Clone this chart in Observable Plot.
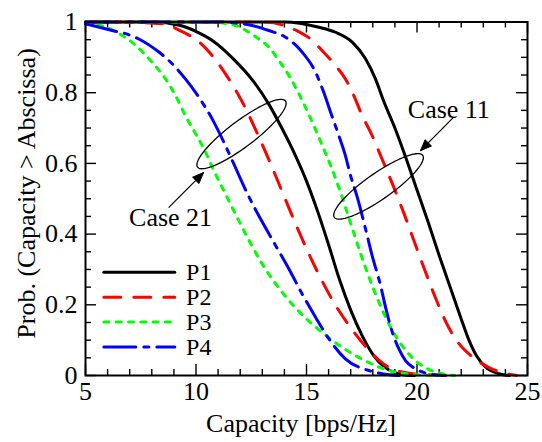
<!DOCTYPE html>
<html><head><meta charset="utf-8">
<script src="https://cdn.jsdelivr.net/npm/d3@7"></script>
<script src="https://cdn.jsdelivr.net/npm/@observablehq/plot@0.6"></script>
<style>html,body{margin:0;padding:0;background:#fff}</style>
</head><body><div id="chart"></div>
<script>
// ---- data: [capacity (bps/Hz), Prob(Capacity > Abscissa)] ----
const case21_P1 = [[5,1],[8,1],[9.3,0.99],[10.2,0.967],[10.8,0.945],[11.7,0.895],[12.6,0.832],[13.3,0.767],[13.9,0.698],[14.5,0.622],[15.0,0.55],[15.5,0.465],[16.0,0.37],[16.5,0.27],[17.0,0.185],[17.5,0.115],[18.0,0.06],[18.5,0.025],[19.0,0.008],[19.5,0.001],[19.9,0]];
const case21_P2 = [[5,1],[6.5,1],[8.47,0.995],[9.3,0.975],[10.2,0.94],[10.73,0.905],[11.45,0.842],[12.1,0.773],[12.7,0.695],[13.3,0.61],[13.9,0.52],[14.5,0.43],[15.1,0.345],[15.7,0.268],[16.3,0.2],[17.0,0.135],[17.7,0.08],[18.3,0.042],[18.8,0.02],[19.5,0.008],[20.5,0.002],[21.5,0]];
const case21_P3 = [[5,0.997],[6.2,0.978],[6.5,0.968],[7.19,0.938],[7.94,0.891],[8.62,0.839],[9.07,0.792],[9.52,0.735],[9.98,0.684],[10.43,0.632],[10.73,0.59],[11.2,0.53],[11.6,0.48],[12.0,0.43],[12.5,0.37],[13.0,0.315],[13.6,0.26],[14.3,0.205],[15.0,0.16],[15.8,0.117],[16.6,0.08],[17.4,0.05],[18.2,0.026],[19.0,0.01],[20.0,0.002],[21.0,0]];
const case21_P4 = [[5,0.995],[6.21,0.976],[6.81,0.967],[7.41,0.952],[8.32,0.915],[8.92,0.882],[9.52,0.839],[10.13,0.787],[10.73,0.726],[11.26,0.66],[11.7,0.6],[12.39,0.506],[13.0,0.434],[13.6,0.368],[14.2,0.302],[14.8,0.231],[15.41,0.165],[16.01,0.104],[16.76,0.047],[17.82,0.014],[18.42,0.005],[19.2,0]];
const case11_P1 = [[5,1],[14,1],[15.56,0.985],[16.31,0.971],[17.07,0.943],[17.67,0.896],[18.12,0.839],[18.5,0.775],[19.0,0.7],[19.5,0.615],[20.0,0.525],[20.5,0.435],[21.0,0.34],[21.5,0.25],[22.0,0.16],[22.35,0.1],[22.7,0.055],[23.1,0.024],[23.7,0.005],[24.2,0]];
const case11_P2 = [[5,1],[13,1],[14,0.99],[14.6,0.974],[15.26,0.948],[15.71,0.919],[16.31,0.877],[16.76,0.839],[17.14,0.792],[17.52,0.735],[17.9,0.688],[18.4,0.615],[18.9,0.54],[19.4,0.46],[19.9,0.375],[20.4,0.29],[20.9,0.21],[21.4,0.14],[21.9,0.09],[22.4,0.058],[22.9,0.035],[23.4,0.018],[24.0,0.006],[24.5,0]];
const case11_P3 = [[5,1],[10.5,1],[11.79,0.99],[12.39,0.971],[12.84,0.952],[13.29,0.929],[13.75,0.891],[14.2,0.849],[14.58,0.806],[14.95,0.759],[15.33,0.707],[15.71,0.651],[16.09,0.594],[16.5,0.525],[17.0,0.43],[17.5,0.335],[18.0,0.25],[18.5,0.175],[19.0,0.115],[19.5,0.07],[20.0,0.038],[20.5,0.018],[21.0,0.007],[21.7,0]];
const case11_P4 = [[5,1],[11,1],[12.54,0.99],[13.29,0.976],[14.05,0.957],[14.8,0.915],[15.41,0.858],[15.78,0.801],[16.09,0.745],[16.46,0.679],[16.76,0.622],[16.99,0.566],[17.3,0.504],[17.67,0.415],[17.97,0.339],[18.35,0.255],[18.57,0.195],[18.88,0.123],[19.18,0.075],[19.48,0.042],[19.93,0.019],[20.69,0.003],[21.2,0]];

const seriesNames = ["P1","P2","P3","P4"];
const caseNames = ["Case 11","Case 21"];
const xTicks = [5,10,15,20,25];
const yTicks = [0,0.2,0.4,0.6,0.8,1];
const xLabel = "Capacity [bps/Hz]";
const yLabel = "Prob. (Capacity > Abscissa)";

// ---- table built from the arrays ----
const raw = {"Case 11": [case11_P1, case11_P2, case11_P3, case11_P4], "Case 21": [case21_P1, case21_P2, case21_P3, case21_P4]};
const rows = [];
for (const c of caseNames) raw[c].forEach((arr, i) => arr.forEach(([x, y]) => rows.push({x, y, series: seriesNames[i], case: c})));

// ---- layout / styles ----
const W = 542, H = 442, mL = 85, mR = 15, mT = 21.5, mB = 67;
const plotW = W - mL - mR, plotH = H - mT - mB;
const kx = plotW / 20, ky = plotH / 1;
const FONT = "'Liberation Serif', 'Times New Roman', serif";
const FS = 26, LFS = 24;
const styles = {
  P1: {stroke: "#000000", dash: null},
  P2: {stroke: "#ff0000", dash: "17,13"},
  P3: {stroke: "#00ff00", dash: "5,7.3"},
  P4: {stroke: "#0000ff", dash: "32,8,5,8"}
};

// annotations (data units; sizes in px)
const ellipses = [{cx: 12.06, cy: 0.683, a: 55, b: 13, deg: 37}, {cx: 18.26, cy: 0.535, a: 54, b: 13, deg: 35}];
const arrows = [{x1: 8.76, y1: 0.475, x2: 10.34, y2: 0.574}, {x1: 21.65, y1: 0.73, x2: 20.16, y2: 0.636}];
const labels = [{x: 8.85, y: 0.447, text: "Case 21"}, {x: 21.44, y: 0.753, text: "Case 11"}];

function ellipsePts(e, id) {
  const th = e.deg * Math.PI / 180, pts = [];
  for (let i = 0; i <= 90; i++) {
    const t = i / 90 * 2 * Math.PI;
    const dx = e.a * Math.cos(th) * Math.cos(t) - e.b * Math.sin(th) * Math.sin(t);
    const dy = e.a * Math.sin(th) * Math.cos(t) + e.b * Math.cos(th) * Math.sin(t);
    pts.push({x: e.cx + dx / kx, y: e.cy + dy / ky, id});
  }
  return pts;
}
function headPts(a, id) {
  let ux = (a.x2 - a.x1) * kx, uy = (a.y2 - a.y1) * ky;
  const n = Math.hypot(ux, uy); ux /= n; uy /= n;
  const L = 11, w = 4.5;
  const bx = a.x2 * kx - L * ux, by = a.y2 * ky - L * uy;
  return [
    {x: a.x2, y: a.y2, id},
    {x: (bx - w * uy) / kx, y: (by + w * ux) / ky, id},
    {x: (bx + w * uy) / kx, y: (by - w * ux) / ky, id},
    {x: a.x2, y: a.y2, id}
  ];
}
const ellData = ellipses.flatMap((e, i) => ellipsePts(e, i));
const headData = arrows.flatMap((a, i) => headPts(a, i));

// legend
const legX1 = 5.83, legX2 = 9.04, legTextX = 9.55, legY0 = 0.292, legStep = 0.0705;
const legRows = seriesNames.flatMap((s, i) => [{x: legX1, y: legY0 - i * legStep, series: s}, {x: legX2, y: legY0 - i * legStep, series: s}]);
const legText = seriesNames.map((s, i) => ({x: legTextX, y: legY0 - i * legStep, text: s}));

const xMinor = d3.range(5, 25.001, 1).filter(v => v % 5 !== 0);
const yMinor = d3.range(0, 1.0001, 0.05).map(v => +v.toFixed(2)).filter(v => Math.round(v * 100) % 20 !== 0);

const tickOpts = {stroke: "#000", strokeWidth: 1.4};
const MAJ = 11, MIN = 6;

const marks = [
  // inward ticks
  Plot.tickX(xTicks, {x: d => d, insetTop: plotH - MAJ, ...tickOpts}),
  Plot.tickX(xTicks, {x: d => d, insetBottom: plotH - MAJ, ...tickOpts}),
  Plot.tickX(xMinor, {x: d => d, insetTop: plotH - MIN, ...tickOpts}),
  Plot.tickX(xMinor, {x: d => d, insetBottom: plotH - MIN, ...tickOpts}),
  Plot.tickY(yTicks, {y: d => d, insetRight: plotW - MAJ, ...tickOpts}),
  Plot.tickY(yTicks, {y: d => d, insetLeft: plotW - MAJ, ...tickOpts}),
  Plot.tickY(yMinor, {y: d => d, insetRight: plotW - MIN, ...tickOpts}),
  Plot.tickY(yMinor, {y: d => d, insetLeft: plotW - MIN, ...tickOpts}),
  Plot.axisX({ticks: xTicks, tickSize: 0, tickPadding: 6, fontSize: FS, label: null, tickFormat: d => String(d)}),
  Plot.axisY({ticks: yTicks, tickSize: 0, tickPadding: 8, fontSize: FS, label: null, tickFormat: d => String(d)}),
];
// curves
for (const s of seriesNames) {
  marks.push(Plot.line(rows.filter(r => r.series === s), {x: "x", y: "y", z: "case", stroke: styles[s].stroke, strokeWidth: 3, strokeDasharray: styles[s].dash, curve: "monotone-x"}));
}
marks.push(
  Plot.frame({stroke: "#000", strokeWidth: 2}),
  // annotations
  Plot.line(ellData, {x: "x", y: "y", z: "id", stroke: "#000", strokeWidth: 1.3, curve: "linear"}),
  Plot.link(arrows, {x1: "x1", y1: "y1", x2: "x2", y2: "y2", stroke: "#000", strokeWidth: 1.2}),
  Plot.line(headData, {x: "x", y: "y", z: "id", fill: "#000", stroke: "#000", strokeWidth: 1}),
  Plot.text(labels, {x: "x", y: "y", text: "text", fontSize: FS, textAnchor: "middle", lineAnchor: "middle", fill: "#000"}),
  // legend
  ...seriesNames.map(s => Plot.line(legRows.filter(r => r.series === s), {x: "x", y: "y", stroke: styles[s].stroke, strokeWidth: 3, strokeDasharray: styles[s].dash})),
  Plot.text(legText, {x: "x", y: "y", text: "text", fontSize: LFS, textAnchor: "start", lineAnchor: "middle", fill: "#000"}),
  // axis titles
  Plot.text([xLabel], {x: 14.75, y: -0.135, text: d => d, fontSize: FS, textAnchor: "middle", lineAnchor: "middle", fill: "#000"}),
  Plot.text([yLabel], {x: 2.36, y: 0.515, text: d => d, fontSize: FS, textAnchor: "middle", lineAnchor: "middle", rotate: -90, fill: "#000"})
);

const chart = Plot.plot({
  width: W, height: H,
  marginLeft: mL, marginRight: mR, marginTop: mT, marginBottom: mB,
  x: {domain: [5, 25]},
  y: {domain: [0, 1]},
  style: {fontFamily: FONT, fontSize: FS + "px", background: "#fff", color: "#000"},
  marks
});
document.getElementById("chart").append(chart);
</script>
</body></html>
